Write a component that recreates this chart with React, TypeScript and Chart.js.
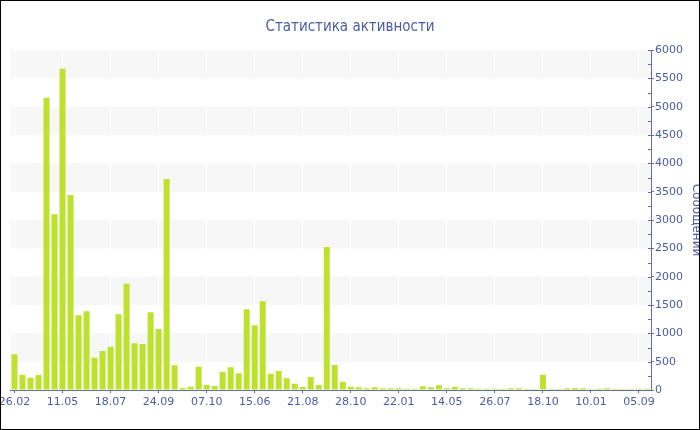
import React, { useEffect, useRef } from "react";
import { Chart, registerables } from "chart.js";

Chart.register(...registerables);

const tickLabels = ["26.02", "11.05", "18.07", "24.09", "07.10", "15.06", "21.08", "28.10", "22.01", "14.05", "26.07", "18.10", "10.01", "05.09"];

const messages = [
  630, 265, 218, 265, 5159, 3100, 5671, 3441, 1318, 1388,
  571, 688, 765, 1335, 1877, 824, 812, 1371, 1076, 3724,
  435, 35, 59, 412, 88, 70, 318, 400, 294, 1424,
  1141, 1565, 288, 335, 206, 112, 53, 229, 88, 2524,
  441, 147, 59, 47, 29, 47, 29, 29, 29, 24,
  24, 65, 47, 82, 29, 53, 29, 29, 24, 24,
  24, 18, 29, 29, 18, 18, 271, 18, 18, 29,
  35, 29, 18, 24, 29, 18, 18, 18, 24, 24,
];

const labelEvery = 6;
const categories = messages.map((_, i) => (i % labelEvery === 0 ? tickLabels[i / labelEvery] ?? "" : ""));

const titleText = "Статистика активности";
const axisTitle = "Сообщений";

const textColor = "#4a5ca3";
const axisColor = "#5e6fa9";
const barColor = "#bde22e";
const bandColor = "#f7f7f7";
const fontFamily = "'DejaVu Sans', Verdana, sans-serif";
const titleFamily = "'DejaVu Sans Condensed', 'DejaVu Sans', sans-serif";

const bandsPlugin = {
  id: "bands",
  beforeDraw(chart: any) {
    const y = chart.scales.y;
    const { left, right } = chart.chartArea;
    const ctx = chart.ctx;
    ctx.save();
    ctx.fillStyle = bandColor;
    for (let v = 500; v < 6000; v += 1000) {
      const top = y.getPixelForValue(v + 500);
      const bottom = y.getPixelForValue(v);
      ctx.fillRect(left, top, right - left, bottom - top);
    }
    ctx.restore();
  },
};

const minorTicksPlugin = {
  id: "minorTicks",
  afterDraw(chart: any) {
    const y = chart.scales.y;
    const ctx = chart.ctx;
    const x = y.left;
    ctx.save();
    ctx.strokeStyle = axisColor;
    ctx.lineWidth = 1;
    for (let v = 0; v <= 6000; v += 250) {
      const py = Math.round(y.getPixelForValue(v)) + 0.5;
      ctx.beginPath();
      ctx.moveTo(x - 3, py);
      ctx.lineTo(x, py);
      ctx.stroke();
    }
    const cy = (chart.chartArea.top + chart.chartArea.bottom) / 2;
    ctx.translate(691.5, cy);
    ctx.rotate(Math.PI / 2);
    ctx.fillStyle = textColor;
    ctx.font = `12px ${fontFamily}`;
    ctx.textAlign = "center";
    ctx.textBaseline = "alphabetic";
    ctx.fillText(axisTitle, 0, 0);
    ctx.restore();
  },
};

export default function App() {
  const canvasRef = useRef<HTMLCanvasElement | null>(null);

  useEffect(() => {
    document.body.style.margin = "0";
    const canvas = canvasRef.current;
    if (!canvas) return;
    const chart = new Chart(canvas, {
      type: "bar",
      data: {
        labels: categories,
        datasets: [
          {
            data: messages,
            backgroundColor: barColor,
            borderWidth: 0,
            barPercentage: 0.75,
            categoryPercentage: 1,
          },
        ],
      },
      options: {
        responsive: false,
        animation: false,
        layout: { autoPadding: false, padding: 0 } as any,
        plugins: {
          legend: { display: false },
          tooltip: { enabled: false },
          title: {
            display: true,
            text: titleText,
            color: textColor,
            font: { family: titleFamily, size: 15, weight: "normal" },
            padding: { top: 17, bottom: 14 },
          },
        },
        scales: {
          x: {
            offset: true,
            grid: {
              offset: false,
              drawOnChartArea: true,
              color: (c: any) => (c.index % labelEvery === 0 ? "#ffffff" : "rgba(0,0,0,0)"),
              tickColor: (c: any) => (c.index % labelEvery === 0 ? axisColor : "rgba(0,0,0,0)"),
              tickLength: 3,
            },
            border: { display: true, color: axisColor },
            ticks: {
              autoSkip: false,
              maxRotation: 0,
              minRotation: 0,
              color: textColor,
              font: { family: fontFamily, size: 11 },
              padding: 3,
            },
            afterFit: (s: any) => {
              s.height = 39;
              s.paddingLeft = 9.5;
              s.paddingRight = 0;
            },
          },
          y: {
            position: "right",
            min: 0,
            max: 6000,
            grid: {
              drawOnChartArea: false,
              color: axisColor,
              tickLength: 3,
            },
            border: { display: true, color: axisColor },
            ticks: {
              stepSize: 500,
              color: textColor,
              font: { family: fontFamily, size: 11 },
              padding: 1,
              callback: (v: any) => String(v),
            },
            afterFit: (s: any) => {
              s.width = 48;
              s.paddingTop = 0;
              s.paddingBottom = 0;
            },
          },
        },
      },
      plugins: [bandsPlugin, minorTicksPlugin],
    });
    return () => chart.destroy();
  }, []);

  return (
    <div style={{ width: 700, height: 430, border: "1px solid #000", boxSizing: "border-box", overflow: "hidden" }}>
      <canvas ref={canvasRef} width={698} height={428} style={{ display: "block" }} />
    </div>
  );
}
